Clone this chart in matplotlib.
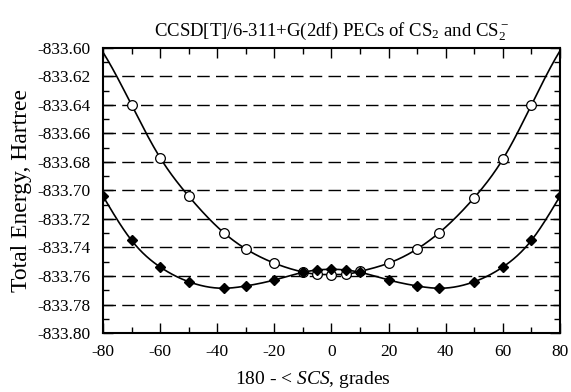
import matplotlib
matplotlib.use("Agg")
import matplotlib.pyplot as plt
from matplotlib.ticker import MultipleLocator, FormatStrFormatter
import numpy as np

plt.rcParams['font.family'] = ['Liberation Serif', 'DejaVu Serif']
plt.rcParams['mathtext.fontset'] = 'custom'
plt.rcParams['mathtext.rm'] = 'Liberation Serif'
plt.rcParams['mathtext.it'] = 'Liberation Serif:italic'
plt.rcParams['axes.unicode_minus'] = False

# CS2 (neutral) - open circles
angle_neutral = [-70, -60, -50, -37.5, -30, -20, -10, -5, 0, 5, 10, 20, 30, 37.5, 50, 60, 70]
energy_neutral = [-833.640, -833.677, -833.704, -833.730, -833.741, -833.751, -833.7572,
                  -833.7588, -833.7590, -833.7588, -833.7568, -833.751, -833.741, -833.730,
                  -833.705, -833.678, -833.640]

# CS2- (anion) - filled diamonds
angle_anion = [-80, -70, -60, -50, -37.5, -30, -20, -10, -5, 0, 5, 10, 20, 30, 37.5, 50, 60, 70, 80]
energy_anion = [-833.704, -833.735, -833.7537, -833.764, -833.7686, -833.767, -833.7628,
                -833.7574, -833.7558, -833.7553, -833.7558, -833.7574, -833.7628, -833.767,
                -833.7686, -833.764, -833.7537, -833.735, -833.704]


def spline(xk, yk, xs):
    # natural cubic spline, end segments extended past the data
    xk = np.asarray(xk, float)
    yk = np.asarray(yk, float)
    n = len(xk)
    h = np.diff(xk)
    A = np.zeros((n, n))
    r = np.zeros(n)
    A[0, 0] = A[-1, -1] = 1
    for i in range(1, n - 1):
        A[i, i - 1] = h[i - 1]
        A[i, i] = 2 * (h[i - 1] + h[i])
        A[i, i + 1] = h[i]
        r[i] = 6 * ((yk[i + 1] - yk[i]) / h[i] - (yk[i] - yk[i - 1]) / h[i - 1])
    m = np.linalg.solve(A, r)
    idx = np.clip(np.searchsorted(xk, xs) - 1, 0, n - 2)
    x0, x1 = xk[idx], xk[idx + 1]
    hh = x1 - x0
    t0, t1 = x1 - xs, xs - x0
    return (m[idx] * t0 ** 3 / (6 * hh) + m[idx + 1] * t1 ** 3 / (6 * hh)
            + (yk[idx] / hh - m[idx] * hh / 6) * t0
            + (yk[idx + 1] / hh - m[idx + 1] * hh / 6) * t1)


fig = plt.figure(figsize=(5.71, 3.92), dpi=100)
ax = fig.add_axes([0.1804, 0.1505, 0.8003, 0.7271])

xs = np.linspace(-80, 80, 600)
ax.plot(xs, spline(angle_neutral, energy_neutral, xs), color='black', lw=1.2, zorder=3)
ax.plot(xs, spline(angle_anion, energy_anion, xs), color='black', lw=1.2, zorder=3)
ax.plot(angle_neutral, energy_neutral, 'o', ms=7, mfc='white', mec='black', mew=0.9, zorder=4)
ax.plot(angle_anion, energy_anion, 'D', ms=5, mfc='black', mec='black', zorder=5)

for yv in np.arange(-833.78, -833.615, 0.02):
    ax.axhline(yv, color='black', lw=1.0, ls=(0, (9, 4.5)), zorder=1)

ax.set_xlim(-80, 80)
ax.set_ylim(-833.80, -833.60)
ax.xaxis.set_major_locator(MultipleLocator(20))
ax.xaxis.set_minor_locator(MultipleLocator(10))
ax.yaxis.set_major_locator(MultipleLocator(0.02))
ax.yaxis.set_minor_locator(MultipleLocator(0.01))
ax.yaxis.set_major_formatter(FormatStrFormatter('%.2f'))
ax.tick_params(which='both', direction='in', top=True, right=True, width=1.0)
ax.tick_params(which='major', length=7, labelsize=12.5)
ax.tick_params(axis='x', which='major', pad=8)
ax.tick_params(axis='y', which='major', pad=9)
ax.tick_params(which='minor', length=4)
for s in ax.spines.values():
    s.set_linewidth(1.5)

ax.set_ylabel('Total Energy, Hartree', fontsize=17, labelpad=4)
ax.set_xlabel(r'180 - < $\mathit{SCS}$, grades', fontsize=14)
ax.xaxis.set_label_coords(0.46, -0.125)
ax.set_title(r'CCSD[T]/6-311+G(2df) PECs of CS$_2$ and CS$_2^-$', fontsize=13.5, pad=9, x=0.50)

fig.savefig('out.png', dpi=100)
